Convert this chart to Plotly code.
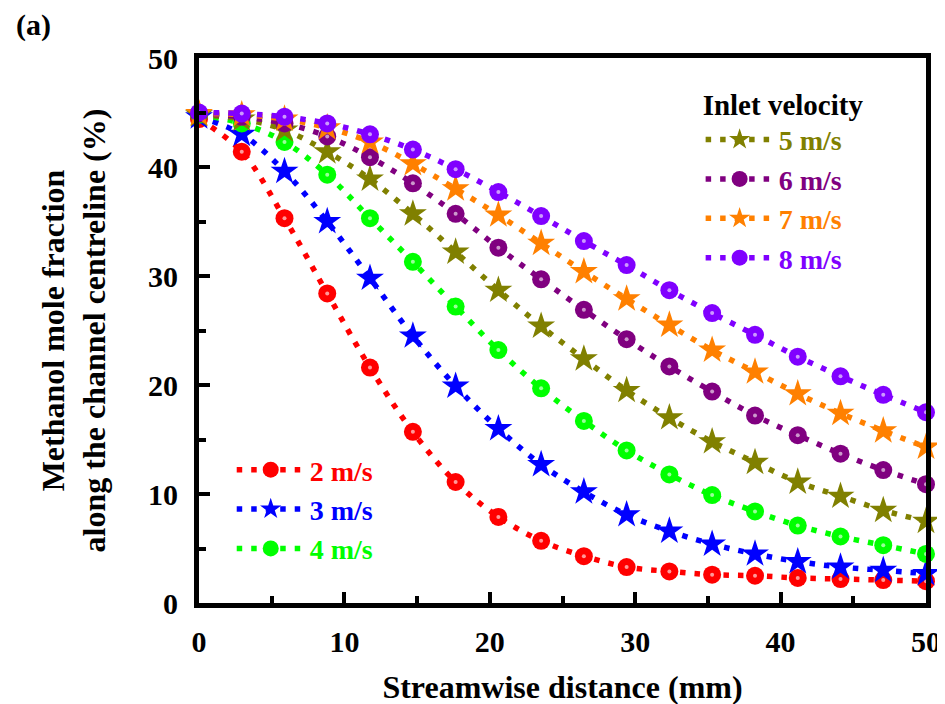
import plotly.graph_objects as go

# ---- data ----
x_mm = [0, 2.94, 5.88, 8.82, 11.76, 14.71, 17.65, 20.59, 23.53, 26.47,
        29.41, 32.35, 35.29, 38.24, 41.18, 44.12, 47.06, 50]

v2 = [44.4, 41.4, 35.3, 28.4, 21.6, 15.7, 11.1, 7.9, 5.7, 4.3,
      3.3, 2.9, 2.6, 2.5, 2.3, 2.2, 2.1, 2.0]
v3 = [44.6, 43.0, 39.6, 35.0, 29.8, 24.5, 19.9, 16.0, 12.7, 10.2,
      8.1, 6.6, 5.4, 4.5, 3.8, 3.3, 3.0, 2.7]
v4 = [44.8, 44.0, 42.3, 39.3, 35.3, 31.3, 27.2, 23.2, 19.7, 16.7,
      14.0, 11.8, 9.9, 8.4, 7.1, 6.1, 5.3, 4.5]
v5 = [44.8, 44.4, 43.4, 41.4, 38.9, 35.7, 32.2, 28.7, 25.4, 22.4,
      19.5, 17.0, 14.8, 12.9, 11.1, 9.8, 8.5, 7.5]
v6 = [44.9, 44.6, 44.0, 42.8, 40.9, 38.5, 35.7, 32.6, 29.7, 26.9,
      24.2, 21.7, 19.4, 17.2, 15.4, 13.7, 12.2, 10.9]
v7 = [44.9, 44.8, 44.4, 43.6, 42.3, 40.3, 38.0, 35.6, 33.0, 30.4,
      27.9, 25.5, 23.2, 21.2, 19.2, 17.4, 15.8, 14.3]
v8 = [45.0, 44.9, 44.6, 44.0, 43.0, 41.6, 39.8, 37.7, 35.5, 33.2,
      31.0, 28.7, 26.6, 24.6, 22.6, 20.8, 19.1, 17.5]

labels = ["2 m/s", "3 m/s", "4 m/s", "5 m/s", "6 m/s", "7 m/s", "8 m/s"]
series = [v2, v3, v4, v5, v6, v7, v8]
colors = ["#FF0000", "#0000FF", "#00FF00", "#808000", "#800080", "#FF8000", "#8000FF"]
symbols = ["circle", "star", "circle", "star", "circle", "star", "circle"]
legend_ids = ["legend", "legend", "legend", "legend2", "legend2", "legend2", "legend2"]

FONT = "Liberation Serif"

fig = go.Figure()
for lab, ys, col, sym, lg in zip(labels, series, colors, symbols, legend_ids):
    fig.add_trace(go.Scatter(
        x=x_mm, y=ys, mode="lines+markers",
        name=f"<span style='color:{col}'>{lab}</span>",
        legend=lg,
        line=dict(color=col, width=5.5, dash="5.5px,9px", shape="spline", smoothing=1),
        marker=dict(symbol=sym, size=21 if sym == "star" else 18, color=col,
                    line=dict(width=0)),
        cliponaxis=False,
    ))
    if sym == "circle":
        fig.add_trace(go.Scatter(
            x=x_mm, y=ys, mode="markers", showlegend=False, hoverinfo="skip",
            marker=dict(symbol="circle", size=4, color="rgba(255,255,255,0.6)",
                        line=dict(width=0)),
            cliponaxis=False,
        ))

axis_common = dict(
    showline=True, linecolor="black", linewidth=5, mirror=True,
    ticks="inside", ticklen=11, tickwidth=4, tickcolor="black",
    showgrid=False, zeroline=False,
    tickfont=dict(family=FONT, size=30, color="black", weight="bold"),
    minor=dict(ticks="inside", dtick=5, ticklen=7, tickwidth=4, tickcolor="black"),
)

fig.update_xaxes(range=[0, 50], dtick=10, ticklabelstandoff=8,
                 title=dict(text="Streamwise distance (mm)", standoff=20,
                            font=dict(family=FONT, size=32, color="black", weight="bold")),
                 **axis_common)
fig.update_yaxes(range=[0, 50], dtick=10, ticklabelstandoff=10,
                 title=dict(text="Methanol mole fraction<br>along the channel centreline (%)",
                            standoff=34,
                            font=dict(family=FONT, size=32, color="black", weight="bold")),
                 **axis_common)

fig.update_layout(
    width=945, height=704,
    margin=dict(l=191, r=16, t=50, b=102),
    paper_bgcolor="white", plot_bgcolor="white",
    font=dict(family=FONT, color="black"),
    legend=dict(x=0.045, y=0.29, xanchor="left", yanchor="top",
                bgcolor="rgba(0,0,0,0)", itemwidth=68,
                font=dict(family=FONT, size=28, weight="bold"),
                tracegroupgap=0),
    legend2=dict(x=0.69, y=0.965, xanchor="left", yanchor="top",
                 bgcolor="rgba(0,0,0,0)", itemwidth=68,
                 title=dict(text="Inlet velocity",
                            font=dict(family=FONT, size=29, color="black", weight="bold")),
                 font=dict(family=FONT, size=28, weight="bold"),
                 tracegroupgap=0),
    annotations=[dict(text="(a)", xref="paper", yref="paper", x=-0.255, y=1.06,
                      xanchor="left", yanchor="middle", showarrow=False,
                      font=dict(family=FONT, size=30, color="black", weight="bold"))],
)

fig.write_html("out.html")
